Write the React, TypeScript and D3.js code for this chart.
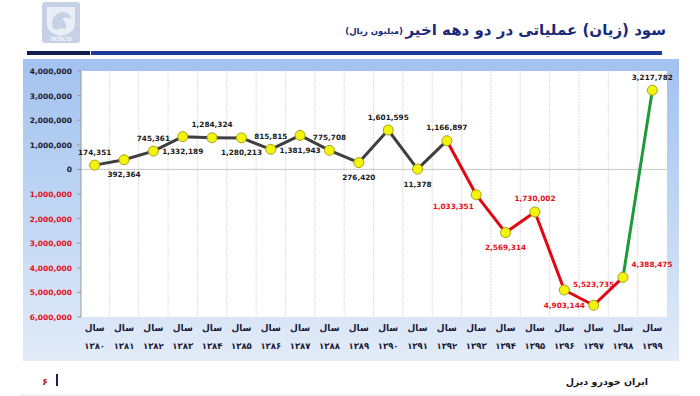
import React from 'react';
import * as d3 from 'd3';

// Operating profit (loss) over two decades — IKDCO slide

const WIDTH = 700;
const HEIGHT = 396;
const PLOT = { left: 81, right: 667, top: 71, bottom: 317 };

const YEARS = [
  '۱۳۸۰', '۱۳۸۱', '۱۳۸۲', '۱۳۸۳', '۱۳۸۴', '۱۳۸۵', '۱۳۸۶', '۱۳۸۷', '۱۳۸۸', '۱۳۸۹',
  '۱۳۹۰', '۱۳۹۱', '۱۳۹۲', '۱۳۹۳', '۱۳۹۴', '۱۳۹۵', '۱۳۹۶', '۱۳۹۷', '۱۳۹۸', '۱۳۹۹',
];
const VALUES = [
  174351, 392364, 745361, 1332189, 1284324, 1280213, 815815, 1381943, 775708, 276420,
  1601595, 11378, 1166897, -1033351, -2569314, -1730002, -4903144, -5523735, -4388475, 3217782,
];
// segment colour groups: up to 1392 grey, 1392–1398 red, last step green
const SEGMENT_GROUP = [
  'g', 'g', 'g', 'g', 'g', 'g', 'g', 'g', 'g', 'g', 'g', 'g',
  'r', 'r', 'r', 'r', 'r', 'r', 'n',
];
const Y_TICKS = [4, 3, 2, 1, 0, -1, -2, -3, -4, -5, -6].map((m) => m * 1000000);

// label placement: a = above, b = below, plus small nudges
const LABEL_SIDE = ['a', 'b', 'a', 'b', 'a', 'b', 'a', 'b', 'a', 'b', 'a', 'b', 'a', 'b', 'b', 'a', 'b', 'a', 'a', 'a'];
const LABEL_NUDGE: Record<number, [number, number]> = {
  13: [-23, -3],
  17: [0, -8],
  18: [29, 0],
};

const SEG_COLORS: Record<string, string> = { g: '#3f3f3f', r: '#e30613', n: '#1f9a3a' };
const fmt = d3.format(',');

export default function App() {
  const x = d3.scaleBand<string>().domain(YEARS).range([PLOT.left - 1, PLOT.right]);
  const y = d3.scaleLinear().domain([-6000000, 4000000]).range([PLOT.bottom, PLOT.top]);
  const cx = (i: number) => (x(YEARS[i]) ?? 0) + x.bandwidth() / 2;
  const pts = VALUES.map((v, i) => [cx(i), y(v)] as [number, number]);
  const line = d3.line();

  const arabic = '"DejaVu Sans", sans-serif';
  const num = '"DejaVu Sans", Verdana, sans-serif';

  return (
    <svg
      width={WIDTH}
      height={HEIGHT}
      style={{ position: 'absolute', left: 0, top: 0, display: 'block', background: '#fff' }}
    >
      <defs>
        <linearGradient id="panelGrad" x1="0" y1="0" x2="0" y2="1">
          <stop offset="0" stopColor="#a2c2ef" />
          <stop offset="0.55" stopColor="#c3d8f4" />
          <stop offset="1" stopColor="#e3ecf8" />
        </linearGradient>
      </defs>

      {/* logo */}
      <g>
        <rect x={42} y={2} width={38} height={41} rx={3} fill="#c6d1e5" />
        <path d="M47,7 L75,7 L75,24 Q75,33 61,36 Q47,33 47,24 Z" fill="#e9eef7" />
        <path d="M52,26 Q51,15 61,12 Q70,11 71,19 Q66,16 62,19 Q67,22 66,29 Q60,27 57,30 Q54,30 52,26 Z" fill="#c6d1e5" />
        <text x={61} y={41} textAnchor="middle" fontFamily={num} fontWeight="bold" fontSize={6} fill="#f2f5fb">
          IKDCO
        </text>
      </g>

      {/* title */}
      <text x={666} y={35} direction="rtl" textAnchor="start" fontFamily={arabic} fontWeight="bold" fontSize={15} fill="#1b2a78">
        سود (زیان) عملیاتی در دو دهه اخیر
      </text>
      <text x={403} y={34} direction="rtl" textAnchor="start" fontFamily={arabic} fontWeight="bold" fontSize={8.5} fill="#1b2a78">
        (میلیون ریال)
      </text>
      <rect x={27} y={51} width={63} height={4} fill="#101d4c" />
      <rect x={91} y={51} width={571} height={4} fill="#1e3a9c" />

      {/* chart panel */}
      <rect x={23} y={59} width={656} height={302} fill="url(#panelGrad)" />
      <rect x={PLOT.left} y={PLOT.top} width={PLOT.right - PLOT.left} height={PLOT.bottom - PLOT.top} fill="#fff" />

      {/* vertical gridlines at band edges */}
      {YEARS.slice(1).map((yr) => (
        <line
          key={`vg-${yr}`}
          x1={x(yr)}
          x2={x(yr)}
          y1={PLOT.top}
          y2={PLOT.bottom}
          stroke="#d4d4d4"
          strokeWidth={0.8}
          strokeDasharray="2,1"
        />
      ))}
      <line x1={PLOT.left} x2={PLOT.right} y1={y(0)} y2={y(0)} stroke="#c8c8c8" strokeWidth={1} />
      <line x1={PLOT.left} x2={PLOT.left} y1={PLOT.top} y2={PLOT.bottom} stroke="#9a9a9a" strokeWidth={1} />

      {/* y axis */}
      {Y_TICKS.map((t) => (
        <g key={`yt-${t}`}>
          <line x1={PLOT.left - 4} x2={PLOT.left} y1={y(t)} y2={y(t)} stroke="#9a9a9a" />
          <text
            x={72}
            y={y(t) + 3}
            textAnchor="end"
            fontFamily={num}
            fontWeight="bold"
            fontSize={7.5}
            fill={t < 0 ? '#e3101a' : '#1a1a2e'}
          >
            {fmt(Math.abs(t))}
          </text>
        </g>
      ))}

      {/* x axis labels */}
      {YEARS.map((yr) => (
        <g key={`xl-${yr}`}>
          <text x={(x(yr) ?? 0) + x.bandwidth() / 2} y={331} textAnchor="middle" fontFamily={arabic} fontWeight="bold" fontSize={9} fill="#1a1a3a">
            سال
          </text>
          <text x={(x(yr) ?? 0) + x.bandwidth() / 2} y={349} textAnchor="middle" fontFamily={arabic} fontWeight="bold" fontSize={8.5} fill="#1a1a3a">
            {yr}
          </text>
        </g>
      ))}

      {/* line segments */}
      {SEGMENT_GROUP.map((grp, i) => (
        <path
          key={`seg-${i}`}
          d={line([pts[i], pts[i + 1]]) ?? ''}
          fill="none"
          stroke={SEG_COLORS[grp]}
          strokeWidth={3}
          strokeLinecap="round"
        />
      ))}

      {/* markers */}
      {pts.map(([px, py], i) => (
        <circle key={`pt-${i}`} cx={px} cy={py} r={5} fill="#f4f40a" stroke="#a3a31c" strokeWidth={1} />
      ))}

      {/* data labels */}
      {VALUES.map((v, i) => {
        const [px, py] = pts[i];
        const [dx, dy] = LABEL_NUDGE[i] ?? [0, 0];
        const ly = LABEL_SIDE[i] === 'a' ? py - 10.5 : py + 17.5;
        return (
          <text
            key={`lb-${i}`}
            x={px + dx}
            y={ly + dy}
            textAnchor="middle"
            fontFamily={num}
            fontWeight="bold"
            fontSize={7.3}
            fill={v < 0 ? '#e3101a' : '#1a1a1a'}
          >
            {fmt(Math.abs(v))}
          </text>
        );
      })}

      {/* footer */}
      <text x={42} y={385} fontFamily={arabic} fontWeight="bold" fontSize={10} fill="#b01a1a">
        ۶
      </text>
      <rect x={56} y={374} width={2} height={12} fill="#1a2060" />
      <text x={648} y={385} textAnchor="end" fontFamily={arabic} fontWeight="bold" fontSize={9.5} fill="#1a1a1a">
        ایران خودرو دیزل
      </text>
      <line x1={20} x2={680} y1={395} y2={395} stroke="#e6e6e6" />
    </svg>
  );
}
